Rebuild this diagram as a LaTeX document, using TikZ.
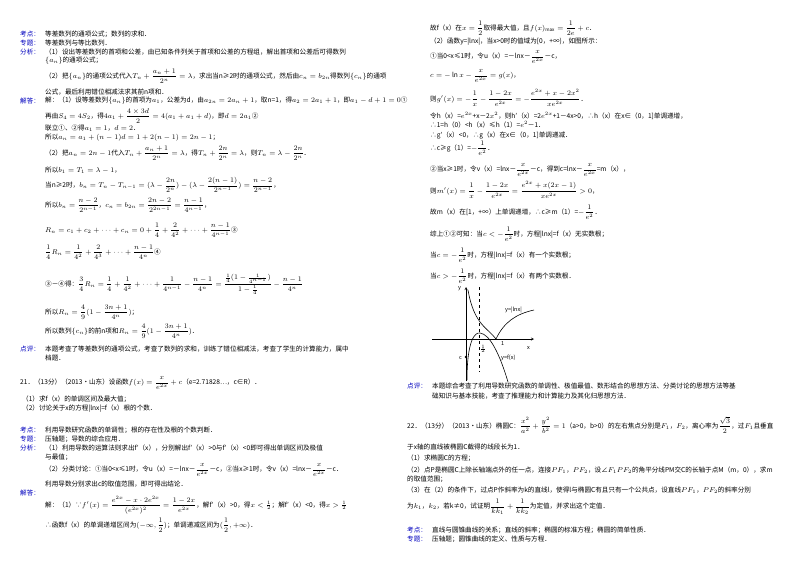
\documentclass[tikz,border=0pt]{standalone}
\usepackage{fontspec}
\setmainfont{Noto Sans CJK SC}
\tikzset{t/.style={anchor=west,inner sep=0pt,font=\fontsize{6.6}{8}\selectfont},
 lab/.style={t,text=blue!75!black},
 crv/.style={line width=0.6pt}}
\newcommand\T[4]{\node[t] (#1) at (#2,-#3) {#4};}
\newcommand\Lb[4]{\node[lab] (#1) at (#2,-#3) {#4};}
\newcommand\fr[2]{\dfrac{#1}{#2}}
\usepackage{amsmath}
\begin{document}
\begin{tikzpicture}[x=1pt,y=1pt]
\useasboundingbox[fill=white] (0,0) rectangle (800,-565);
% left column
\Lb{k1}{20}{34}{考点：}\T{k1t}{45}{34}{等差数列的通项公式；数列的求和．}
\Lb{z1}{20}{43}{专题：}\T{z1t}{45}{43}{等差数列与等比数列．}
\Lb{f1}{20}{52}{分析：}\T{f1a}{45}{52}{（1）设出等差数列的首项和公差，由已知条件列关于首项和公差的方程组，解出首项和公差后可得数列}
\T{f1b}{45}{61}{$\{a_n\}$的通项公式；}
\T{f1c}{45}{76}{（2）把$\{a_n\}$的通项公式代入$T_n+\fr{a_n+1}{2^n}=\lambda$，求出当n≥2时的通项公式，然后由$c_n=b_{2n}$得数列$\{c_n\}$的通项}
\T{f1d}{45}{92}{公式，最后利用错位相减法求其前n项和．}
\Lb{j1}{20}{101}{解答：}\T{j1a}{45}{101}{解：（1）设等差数列$\{a_n\}$的首项为$a_1$，公差为d，由$a_{2n}=2a_n+1$，取n=1，得$a_2=2a_1+1$，即$a_1-d+1=0$①}
\T{j1b}{45}{116}{再由$S_4=4S_2$，得$4a_1+\fr{4\times3d}{2}=4(a_1+a_1+d)$，即$d=2a_1$②}
\T{j1c}{45}{128}{联立①、②得$a_1=1$，$d=2$．}
\T{j1d}{45}{138}{所以$a_n=a_1+(n-1)d=1+2(n-1)=2n-1$；}
\T{j1e}{45}{153}{（2）把$a_n=2n-1$代入$T_n+\fr{a_n+1}{2^n}=\lambda$，得$T_n+\fr{2n}{2^n}=\lambda$，则$T_n=\lambda-\fr{2n}{2^n}$．}
\T{j1f}{45}{170}{所以$b_1=T_1=\lambda-1$，}
\T{j1g}{45}{185}{当n≥2时，$b_n=T_n-T_{n-1}=(\lambda-\fr{2n}{2^n})-(\lambda-\fr{2(n-1)}{2^{n-1}})=\fr{n-2}{2^{n-1}}$，}
\T{j1h}{45}{205}{所以$b_n=\fr{n-2}{2^{n-1}}$，$c_n=b_{2n}=\fr{2n-2}{2^{2n-1}}=\fr{n-1}{4^{n-1}}$，}
\T{j1i}{45}{230}{$R_n=c_1+c_2+\cdots+c_n=0+\fr14+\fr2{4^2}+\cdots+\fr{n-1}{4^{n-1}}$③}
\T{j1j}{45}{252}{$\fr14R_n=\fr1{4^2}+\fr2{4^3}+\cdots+\fr{n-1}{4^n}$④}
\T{j1k}{45}{284}{③－④得：$\fr34R_n=\fr14+\fr1{4^2}+\cdots+\fr1{4^{n-1}}-\fr{n-1}{4^n}=\fr{\frac14(1-\frac1{4^{n-1}})}{1-\frac14}-\fr{n-1}{4^n}$}
\T{j1l}{45}{312}{所以$R_n=\fr49(1-\fr{3n+1}{4^n})$；}
\T{j1m}{45}{331}{所以数列$\{c_n\}$的前n项和$R_n=\fr49(1-\fr{3n+1}{4^n})$．}
\Lb{d1}{20}{349}{点评：}\T{d1a}{45}{349}{本题考查了等差数列的通项公式，考查了数列的求和，训练了错位相减法，考查了学生的计算能力，属中}
\T{d1b}{45}{358}{档题．}
\T{q21}{20}{383}{21．（13分）（2013•山东）设函数$f(x)=\fr{x}{e^{2x}}+c$（e=2.71828…，c∈R）．}
\T{q21a}{22}{399}{（1）求f（x）的单调区间及最大值；}
\T{q21b}{22}{409}{（2）讨论关于x的方程|lnx|=f（x）根的个数．}
\Lb{k2}{20}{430}{考点：}\T{k2t}{45}{430}{利用导数研究函数的单调性；根的存在性及根的个数判断．}
\Lb{z2}{20}{439}{专题：}\T{z2t}{45}{439}{压轴题；导数的综合应用．}
\Lb{f2}{20}{448}{分析：}\T{f2a}{45}{448}{（1）利用导数的运算法则求出f′（x），分别解出f′（x）>0与f′（x）<0即可得出单调区间及极值}
\T{f2b}{45}{457}{与最值；}
\T{f2c}{45}{470}{（2）分类讨论：①当0<x≤1时，令u（x）=－lnx－$\fr{x}{e^{2x}}$－c，②当x≥1时，令v（x）=lnx－$\fr{x}{e^{2x}}$－c．}
\T{f2d}{45}{484}{利用导数分别求出c的取值范围，即可得出结论．}
\Lb{j2}{20}{493}{解答：}
\T{j2a}{45}{505}{解：（1）∵$f'(x)=\fr{e^{2x}-x\cdot2e^{2x}}{(e^{2x})^2}=\fr{1-2x}{e^{2x}}$，解f′（x）>0，得$x<\frac12$；解f′（x）<0，得$x>\frac12$}
\T{j2b}{45}{525}{∴函数f（x）的单调递增区间为$(-\infty,\fr12)$；单调递减区间为$(\fr12,+\infty)$．}
% right column
\T{r1}{430}{28}{故f（x）在$x=\fr12$取得最大值，且$f(x)_{\max}=\fr1{2e}+c$．}
\T{r2}{430}{42}{（2）函数y=|lnx|，当x>0时的值域为[0，+∞)，如图所示：}
\T{r3}{430}{57}{①当0<x≤1时，令u（x）=－lnx－$\fr{x}{e^{2x}}$－c，}
\T{r4}{430}{76}{$c=-\ln x-\fr{x}{e^{2x}}=g(x)$，}
\T{r5}{430}{98}{则$g'(x)=-\fr1x-\fr{1-2x}{e^{2x}}=-\fr{e^{2x}+x-2x^2}{xe^{2x}}$．}
\T{r6}{430}{116}{令h（x）=$e^{2x}$+x－2$x^2$，则h′（x）=2$e^{2x}$+1－4x>0，∴h（x）在x∈（0，1]单调递增，}
\T{r7}{430}{125}{∴1=h（0）<h（x）≤h（1）=$e^2$－1．}
\T{r8}{430}{135}{∴g′（x）<0，∴g（x）在x∈（0，1]单调递减．}
\T{r9}{430}{148}{∴c≥g（1）=$-\fr1{e^2}$．}
\T{r10}{430}{170}{②当x≥1时，令v（x）=lnx－$\fr{x}{e^{2x}}$－c，得到c=lnx－$\fr{x}{e^{2x}}$=m（x），}
\T{r11}{430}{190}{则$m'(x)=\fr1x-\fr{1-2x}{e^{2x}}=\fr{e^{2x}+x(2x-1)}{xe^{2x}}>0$，}
\T{r12}{430}{212}{故m（x）在[1，+∞）上单调递增，∴c≥m（1）=$-\fr1{e^2}$．}
\T{r13}{430}{234}{综上①②可知：当$c<-\fr1{e^2}$时，方程|lnx|=f（x）无实数根；}
\T{r14}{430}{255}{当$c=-\fr1{e^2}$时，方程|lnx|=f（x）有一个实数根；}
\T{r15}{430}{276}{当$c>-\fr1{e^2}$时，方程|lnx|=f（x）有两个实数根．}
% graph
\coordinate (xa0) at (432,-339); \coordinate (xa1) at (534,-339);
\coordinate (ya0) at (466,-381); \coordinate (ya1) at (466,-287);
\draw[->,>=stealth] (xa0) -- (xa1);
\draw[->,>=stealth] (ya0) -- (ya1);
\coordinate (dv0) at (479,-287); \coordinate (dv1) at (479,-372);
\draw[dashed,line width=0.4pt] (dv0) -- (dv1);
\draw[crv] (468,-290) .. controls (474,-325) and (488,-328) .. (496,-339) .. controls (504,-322) and (516,-314) .. (534,-310);
\draw[crv] (467,-380) .. controls (467,-340) and (475,-332) .. (480,-333) .. controls (490,-334) and (500,-355) .. (508,-382);
\fill (466,-357) circle (1.3pt);
\node[t,font=\fontsize{5.5}{6}\selectfont] (gy) at (458,-289) {y};
\node[t,font=\fontsize{5.5}{6}\selectfont] (gx) at (527,-348) {x};
\node[t,font=\fontsize{5.5}{6}\selectfont] (g1) at (501,-344) {1};
\node[t,font=\fontsize{5}{6}\selectfont] (gh) at (480,-349) {$\frac12$};
\node[t,font=\fontsize{5.5}{6}\selectfont] (gc) at (459,-358) {c};
\node[t,font=\fontsize{5.5}{6}\selectfont] (gl) at (505,-310) {y=|lnx|};
\node[t,font=\fontsize{5.5}{6}\selectfont] (gf) at (501,-358) {y=f(x)};
\Lb{d2}{407}{386}{点评：}\T{d2a}{432}{386}{本题综合考查了利用导数研究函数的单调性、极值最值、数形结合的思想方法、分类讨论的思想方法等基}
\T{d2b}{432}{396}{础知识与基本技能，考查了推理能力和计算能力及其化归思想方法．}
\T{q22}{407}{425}{22．（13分）（2013•山东）椭圆C：$\fr{x^2}{a^2}+\fr{y^2}{b^2}=1$（a>0，b>0）的左右焦点分别是$F_1$，$F_2$，离心率为$\fr{\sqrt3}2$，过$F_1$且垂直}
\T{q22a}{407}{447}{于x轴的直线被椭圆C截得的线段长为1．}
\T{q22b}{407}{458}{（1）求椭圆C的方程；}
\T{q22c}{407}{470}{（2）点P是椭圆C上除长轴端点外的任一点，连接$PF_1$，$PF_2$，设∠$F_1PF_2$的角平分线PM交C的长轴于点M（m，0），求m}
\T{q22d}{407}{479}{的取值范围；}
\T{q22e}{407}{490}{（3）在（2）的条件下，过点P作斜率为k的直线l，使得l与椭圆C有且只有一个公共点，设直线$PF_1$，$PF_2$的斜率分别}
\T{q22f}{407}{507}{为$k_1$，$k_2$，若k≠0，试证明$\fr1{kk_1}+\fr1{kk_2}$为定值，并求出这个定值．}
\Lb{k3}{407}{530}{考点：}\T{k3t}{432}{530}{直线与圆锥曲线的关系；直线的斜率；椭圆的标准方程；椭圆的简单性质．}
\Lb{z3}{407}{539}{专题：}\T{z3t}{432}{539}{压轴题；圆锥曲线的定义、性质与方程．}
\end{tikzpicture}
\end{document}
